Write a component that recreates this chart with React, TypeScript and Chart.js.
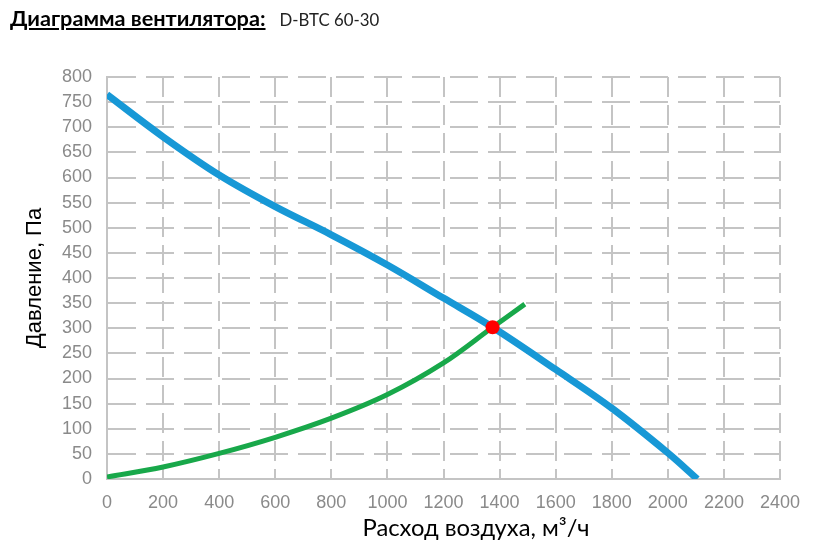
import React, { useEffect, useRef } from "react";
import { Chart, registerables } from "chart.js";

Chart.register(...registerables);

const titleMain = "Диаграмма вентилятора:";
const titleModel = "D-BTC 60-30";
const xAxisTitle = "Расход воздуха, м³/ч";
const yAxisTitle = "Давление, Па";

const xTickValues = [0, 200, 400, 600, 800, 1000, 1200, 1400, 1600, 1800, 2000, 2200, 2400];
const yTickValues = [0, 50, 100, 150, 200, 250, 300, 350, 400, 450, 500, 550, 600, 650, 700, 750, 800];

// Fan curve (blue)
const fanFlow = [0, 200, 400, 600, 800, 1000, 1200, 1375, 1600, 1800, 2000, 2105];
const fanPressure = [765, 681, 605, 542, 486, 426, 360, 302, 218, 141, 52, 0];

// System curve (green)
const sysFlow = [0, 200, 400, 600, 800, 1000, 1200, 1375, 1490];
const sysPressure = [4, 24, 51, 83, 121, 168, 231, 302, 348];

// Operating point (red)
const opFlow = [1375];
const opPressure = [302];

const gridColor = "#c4c4c4";
const tickColor = "#8a8a8a";
const tickFont = { family: "'Liberation Sans', Arial, sans-serif", size: 18 };

export default function App() {
  const ref = useRef<HTMLCanvasElement>(null);

  useEffect(() => {
    if (!ref.current) return;
    const chart = new Chart(ref.current, {
      type: "scatter",
      data: {
        datasets: [
          {
            data: opFlow.map((x, i) => ({ x, y: opPressure[i] })),
            pointRadius: 7,
            pointBackgroundColor: "#ff0000",
            pointBorderColor: "#ff0000",
            pointBorderWidth: 0,
            order: 0,
          },
          {
            data: fanFlow.map((x, i) => ({ x, y: fanPressure[i] })),
            showLine: true,
            borderColor: "#1798d6",
            borderWidth: 7,
            pointRadius: 0,
            tension: 0.35,
            order: 1,
          },
          {
            data: sysFlow.map((x, i) => ({ x, y: sysPressure[i] })),
            showLine: true,
            borderColor: "#18a84a",
            borderWidth: 5,
            pointRadius: 0,
            tension: 0.35,
            order: 2,
          },
        ],
      },
      options: {
        animation: false,
        responsive: false,
        devicePixelRatio: 1,
        layout: { padding: { left: 0, right: 40, top: 77, bottom: 0 } },
        plugins: {
          legend: { display: false },
          tooltip: { enabled: false },
        },
        scales: {
          x: {
            type: "linear",
            min: 0,
            max: 2400,
            afterBuildTicks: (s: any) => {
              s.ticks = xTickValues.map((v) => ({ value: v }));
            },
            afterFit: (s: any) => {
              s.height = 81;
            },
            grid: { color: gridColor, lineWidth: 2, drawTicks: false },
            border: { display: true, color: gridColor, width: 2, dash: [20, 8] },
            ticks: {
              color: tickColor,
              padding: 13,
              maxRotation: 0,
              autoSkip: false,
              font: tickFont,
              callback: (v: any) => String(v),
            },
          },
          y: {
            type: "linear",
            min: 0,
            max: 800,
            afterBuildTicks: (s: any) => {
              s.ticks = yTickValues.map((v) => ({ value: v }));
            },
            afterFit: (s: any) => {
              s.width = 107;
            },
            grid: { color: gridColor, lineWidth: 2, drawTicks: false },
            border: { display: true, color: gridColor, width: 2, dash: [28, 10] },
            ticks: {
              color: tickColor,
              padding: 15,
              autoSkip: false,
              font: tickFont,
              callback: (v: any) => String(v),
            },
            title: {
              display: true,
              text: yAxisTitle,
              color: "#000",
              padding: { top: 22, bottom: 0 },
              font: { family: "'Liberation Sans', Arial, sans-serif", size: 22 },
            },
          },
        },
      },
    });
    return () => chart.destroy();
  }, []);

  return (
    <div
      style={{
        position: "absolute",
        left: 0,
        top: 0,
        width: 820,
        height: 560,
        background: "#fff",
        overflow: "hidden",
      }}
    >
      <canvas ref={ref} width={820} height={560} style={{ display: "block", width: 820, height: 560 }} />
      <div
        style={{
          position: "absolute",
          left: 10,
          top: 5,
          whiteSpace: "nowrap",
          fontFamily: "Lato, 'Open Sans', sans-serif",
          lineHeight: "26px",
        }}
      >
        <span style={{ fontWeight: 700, fontSize: 21.7, textDecoration: "underline", color: "#000" }}>{titleMain}</span>
        <span style={{ fontSize: 16.8, color: "#222", marginLeft: 14 }}>{titleModel}</span>
      </div>
      <div
        style={{
          position: "absolute",
          left: 476,
          top: 527,
          transform: "translate(-50%, -50%)",
          whiteSpace: "nowrap",
          fontFamily: "Lato, 'Open Sans', sans-serif",
          fontSize: 23.8,
          color: "#000",
        }}
      >
        {xAxisTitle}
      </div>
    </div>
  );
}
